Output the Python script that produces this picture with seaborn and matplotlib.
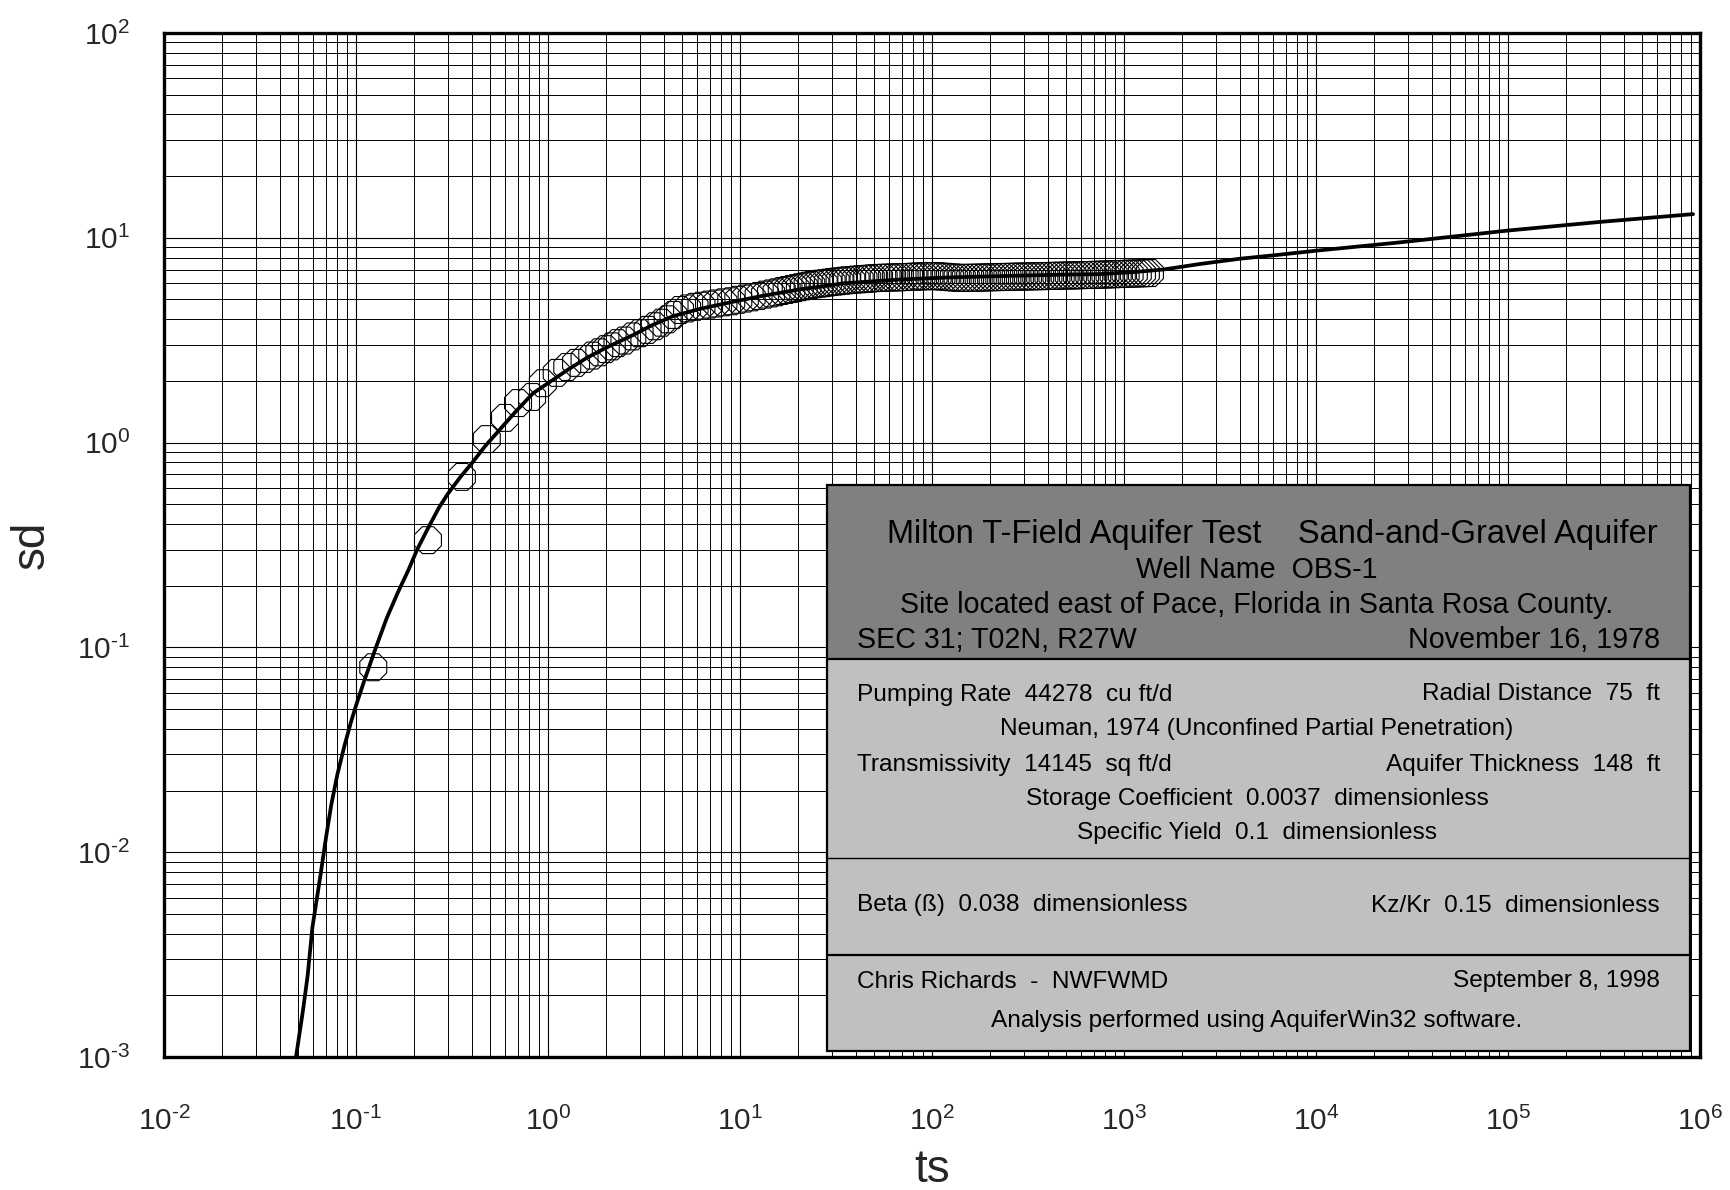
import numpy as np
import matplotlib
matplotlib.use("Agg")
import matplotlib.pyplot as plt
from matplotlib.ticker import LogLocator, NullFormatter, FuncFormatter, FixedLocator
from matplotlib.patches import Rectangle
from matplotlib.lines import Line2D
import seaborn as sns

# ---------------- data ----------------
obs_t = [0.123, 0.237, 0.356, 0.48, 0.597, 0.698, 0.826, 0.94, 1.11, 1.26,
         1.4, 1.55, 1.7, 1.85, 2.0, 2.15, 2.3, 2.5, 2.75, 3.0,
         3.3, 3.6, 3.9, 4.2, 4.5, 4.87, 5.3, 5.8, 6.3, 6.9,
         7.5, 8.2, 9.0, 9.8, 10.6, 11.5, 12.5, 13.5, 14.5, 15.5,
         16.5, 17.5, 18.5, 19.5, 20.5, 21.5, 22.5, 23.5, 24.7, 26,
         27.3, 28.7, 30, 31.5, 33, 34.5, 36, 38, 40, 42,
         44, 46, 48, 50, 53, 56, 59, 62, 65, 68,
         72, 76, 80, 84, 88, 92, 97, 102, 107, 112,
         118, 124, 130, 136, 143, 150, 158, 166, 175, 184,
         193, 203, 213, 224, 235, 247, 260, 273, 287, 301,
         316, 332, 349, 366, 385, 404, 424, 445, 468, 491,
         516, 542, 569, 597, 627, 659, 692, 726, 763, 801,
         841, 883, 927, 974, 1020, 1070, 1125, 1180, 1240, 1300,
         1365]
obs_s = [0.080, 0.334, 0.68, 1.04, 1.32, 1.56, 1.67, 1.95, 2.19, 2.34,
         2.45, 2.56, 2.66, 2.76, 2.86, 2.95, 3.06, 3.15, 3.30, 3.42,
         3.55, 3.70, 3.85, 4.00, 4.20, 4.44, 4.52, 4.60, 4.66, 4.72,
         4.78, 4.84, 4.90, 4.98, 5.05, 5.12, 5.20, 5.28, 5.35, 5.42,
         5.50, 5.56, 5.62, 5.68, 5.74, 5.79, 5.84, 5.88, 5.93, 5.97,
         6.00, 6.04, 6.08, 6.11, 6.14, 6.17, 6.20, 6.22, 6.25, 6.27,
         6.29, 6.31, 6.33, 6.35, 6.37, 6.38, 6.39, 6.40, 6.41, 6.42,
         6.43, 6.44, 6.46, 6.47, 6.48, 6.49, 6.50, 6.50, 6.49, 6.47,
         6.45, 6.42, 6.40, 6.38, 6.37, 6.37, 6.38, 6.38, 6.39, 6.40,
         6.41, 6.42, 6.42, 6.43, 6.44, 6.44, 6.45, 6.46, 6.46, 6.47,
         6.48, 6.48, 6.49, 6.50, 6.50, 6.51, 6.52, 6.52, 6.53, 6.54,
         6.55, 6.55, 6.56, 6.57, 6.58, 6.58, 6.59, 6.60, 6.61, 6.62,
         6.63, 6.64, 6.65, 6.66, 6.67, 6.68, 6.69, 6.70, 6.71, 6.72,
         6.73]

curve_t = [0.0487, 0.053, 0.056, 0.0593, 0.065, 0.070, 0.0743, 0.080, 0.087, 0.094,
           0.100, 0.110, 0.126, 0.145, 0.165, 0.188, 0.208, 0.240, 0.270, 0.300,
           0.350, 0.400, 0.470, 0.562, 0.680, 0.835, 1.00, 1.26, 1.60, 2.00,
           2.77, 3.50, 4.50, 6.20, 9.00, 13.0, 20.5, 35.0, 67.0, 120.0,
           226.0, 450.0, 750.0, 1120.0, 1600.0, 2490.0, 4000.0, 6300.0, 1.0e4, 2.74e4,
           1.0e5, 3.0e5, 9.2e5]
curve_s = [0.0010, 0.0017, 0.0025, 0.0043, 0.0075, 0.0120, 0.0170, 0.0240, 0.0330, 0.0430,
           0.0520, 0.0680, 0.0980, 0.1400, 0.1850, 0.2400, 0.3000, 0.3900, 0.4800, 0.5600,
           0.6800, 0.7900, 0.9600, 1.1600, 1.4200, 1.7400, 1.9500, 2.2600, 2.6000, 2.9000,
           3.3500, 3.7500, 4.1500, 4.5000, 4.8500, 5.2000, 5.6000, 6.0000, 6.2500, 6.4000,
           6.5000, 6.6000, 6.6500, 6.8000, 7.0000, 7.4500, 7.9000, 8.2500, 8.6500, 9.5000,
           10.850, 11.950, 13.050]

x_limits = (1e-2, 1e6)
y_limits = (1e-3, 1e2)
x_decades = [1e-2, 1e-1, 1e0, 1e1, 1e2, 1e3, 1e4, 1e5, 1e6]
y_decades = [1e-3, 1e-2, 1e-1, 1e0, 1e1, 1e2]
x_label = "ts"
y_label = "sd"

box_header = [
    ("Milton T-Field Aquifer Test    Sand-and-Gravel Aquifer", None),
    ("Well Name  OBS-1", None),
    ("Site located east of Pace, Florida in Santa Rosa County.", None),
    ("SEC 31; T02N, R27W", "November 16, 1978"),
]
box_params = [
    ("Pumping Rate  44278  cu ft/d", "Radial Distance  75  ft"),
    ("Neuman, 1974 (Unconfined Partial Penetration)", None),
    ("Transmissivity  14145  sq ft/d", "Aquifer Thickness  148  ft"),
    ("Storage Coefficient  0.0037  dimensionless", None),
    ("Specific Yield  0.1  dimensionless", None),
]
box_beta = [("Beta (ß)  0.038  dimensionless", "Kz/Kr  0.15  dimensionless")]
box_footer = [
    ("Chris Richards  -  NWFWMD", "September 8, 1998"),
    ("Analysis performed using AquiferWin32 software.", None),
]

# ---------------- style ----------------
sns.set_style("white")
plt.rcParams["font.family"] = ["Liberation Sans", "DejaVu Sans"]
plt.rcParams["axes.unicode_minus"] = False
plt.rcParams["mathtext.fontset"] = "custom"
plt.rcParams["mathtext.rm"] = "Liberation Sans"
plt.rcParams["mathtext.it"] = "Liberation Sans"


def _mathtext_ok(s):
    try:
        f = plt.figure(figsize=(1, 1))
        f.text(0.1, 0.1, s)
        f.canvas.draw()
        plt.close(f)
        return True
    except Exception:
        plt.close("all")
        return False


_use_text_hyphen = _mathtext_ok(r"$\mathdefault{10^{\text{-}2}}$")


def log_label(v, pos):
    e = int(round(np.log10(v)))
    if e < 0 and _use_text_hyphen:
        return r"$\mathdefault{10^{\text{-}%d}}$" % (-e)
    return r"$\mathdefault{10^{%d}}$" % e


W, H = 1730, 1190
fig = plt.figure(figsize=(W / 100, H / 100), dpi=100)
fig.patch.set_facecolor("white")

L, R, T, B = 164, 1700, 33, 1057
ax = fig.add_axes([L / W, 1 - B / H, (R - L) / W, (B - T) / H])
ax.set_facecolor("white")
ax.set_xscale("log")
ax.set_yscale("log")


def fx(px):
    return px / W


def fy(py):
    return 1 - py / H


# data marks
sns.scatterplot(x=obs_t, y=obs_s, ax=ax, marker="8", s=440, zorder=3,
                legend=False)
coll = ax.collections[-1]
coll.set_facecolor("none")
coll.set_edgecolor("black")
coll.set_linewidth(0.8)

sns.lineplot(x=curve_t, y=curve_s, ax=ax, sort=False, estimator=None,
             color="black", lw=2.7, zorder=4, legend=False)

ax.set_xlim(*x_limits)
ax.set_ylim(*y_limits)

# ticks and grid
ax.xaxis.set_major_locator(FixedLocator(x_decades))
ax.yaxis.set_major_locator(FixedLocator(y_decades))
ax.xaxis.set_minor_locator(LogLocator(base=10, subs=np.arange(2, 10), numticks=200))
ax.yaxis.set_minor_locator(LogLocator(base=10, subs=np.arange(2, 10), numticks=200))
ax.xaxis.set_major_formatter(FuncFormatter(log_label))
ax.yaxis.set_major_formatter(FuncFormatter(log_label))
ax.xaxis.set_minor_formatter(NullFormatter())
ax.yaxis.set_minor_formatter(NullFormatter())
ax.xaxis.get_offset_text().set_visible(False)
ax.yaxis.get_offset_text().set_visible(False)
ax.grid(True, which="major", color="black", lw=0.8, zorder=0)
ax.grid(True, which="minor", color="black", lw=0.7, zorder=0)
ax.set_axisbelow(True)

ax.tick_params(which="major", direction="out", length=18.7, width=1.4,
               labelsize=21.5, top=False, right=False, color="black")
ax.tick_params(which="minor", direction="out", length=12.2, width=0.8,
               top=False, right=False, color="black")
ax.tick_params(axis="x", which="major", pad=17)
ax.tick_params(axis="y", which="major", pad=5.5)

for sp in ax.spines.values():
    sp.set_linewidth(2.4)
    sp.set_color("black")
    sp.set_visible(True)

ax.set_xlabel(x_label, fontsize=33)
ax.set_ylabel(y_label, fontsize=33)
ax.xaxis.label.set_verticalalignment("center")
ax.yaxis.label.set_verticalalignment("center")
ax.xaxis.set_label_coords(0.5, (B - 1170) / (B - T))
ax.yaxis.set_label_coords((32 - L) / (R - L), 0.5)

# ---------------- information box ----------------
bx0, bx1, by0, by1 = 827, 1690, 485, 1051
y_dark_end, y_div1, y_div2 = 659, 858, 955


def rect(x0, y0, x1, y1, fc, ec="none", lw=0, z=5):
    fig.add_artist(Rectangle((fx(x0), fy(y1)), (x1 - x0) / W, (y1 - y0) / H,
                             transform=fig.transFigure, facecolor=fc,
                             edgecolor=ec, lw=lw, zorder=z))


def hline(y, lw):
    fig.add_artist(Line2D([fx(bx0), fx(bx1)], [fy(y), fy(y)],
                          transform=fig.transFigure, color="black", lw=lw, zorder=7))


rect(bx0, by0, bx1, by1, "#c0c0c0")
rect(bx0, by0, bx1, y_dark_end, "#808080")
rect(bx0, by0, bx1, by1, "none", ec="black", lw=1.6, z=8)
hline(y_dark_end, 1.6)
hline(y_div1, 1.0)
hline(y_div2, 1.6)

xl, xr, xc = 857, 1660, 1257


def put_rows(rows, ys, size, center=xc):
    for (a, b), yy in zip(rows, ys):
        if b is None:
            fig.text(fx(center), fy(yy), a, ha="center", va="center_baseline",
                     fontsize=size, color="black", zorder=9)
        else:
            fig.text(fx(xl), fy(yy), a, ha="left", va="center_baseline",
                     fontsize=size, color="black", zorder=9)
            fig.text(fx(xr), fy(yy), b, ha="right", va="center_baseline",
                     fontsize=size, color="black", zorder=9)


put_rows(box_header[:1], [531], 23.5, center=1272)
put_rows(box_header[1:], [567, 602, 637], 20.6)
put_rows(box_params, [692, 727, 762, 796, 831], 17.6)
put_rows(box_beta, [903], 17.6)
put_rows(box_footer, [979, 1018], 17.6)

fig.savefig("out.png", dpi=100, facecolor="white")
